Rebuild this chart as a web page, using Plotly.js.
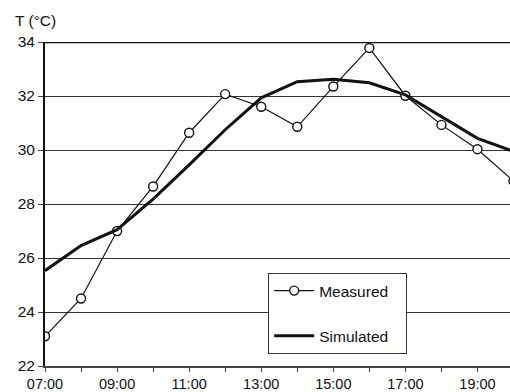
<!DOCTYPE html>
<html><head><meta charset="utf-8">
<script src="https://cdn.plot.ly/plotly-3.0.1.min.js"></script>
<style>html,body{margin:0;padding:0;background:#fff}#chart{width:510px;height:392px}</style>
</head><body><div id="chart"></div>
<script>
const hours = [7,8,9,10,11,12,13,14,15,16,17,18,19,20];
const measured = [23.1,24.5,27.0,28.65,30.64,32.07,31.6,30.86,32.35,33.78,32.01,30.93,30.03,28.85];
const simulated = [25.53,26.46,27.05,28.18,29.45,30.75,31.93,32.53,32.62,32.49,32.04,31.23,30.43,29.95];
const tickHours = [7,9,11,13,15,17,19];
const tickLabels = ["07:00","09:00","11:00","13:00","15:00","17:00","19:00"];
const yTicks = [22,24,26,28,30,32,34];

const font = {family: "Liberation Sans, Arial, sans-serif", size: 15.5, color: "#111"};
const xfont = {family: "Liberation Sans, Arial, sans-serif", size: 14.5, color: "#111"};
const pad = "\u00a0\u00a0\u00a0";
const traces = [
  {x: hours, y: measured, name: "Measured" + pad, mode: "lines+markers", legendgroup: "a",
   line: {color: "#111", width: 1.2},
   marker: {symbol: "circle", size: 9, color: "#fff", line: {color: "#111", width: 1.4}}},
  {x: hours, y: simulated, name: "Simulated" + pad, mode: "lines", legendgroup: "b",
   line: {color: "#111", width: 3}}
];
const layout = {
  width: 510, height: 392,
  margin: {l: 45, r: 0, t: 42, b: 26},
  paper_bgcolor: "#fff", plot_bgcolor: "#fff",
  font: font,
  showlegend: true,
  legend: {x: 0.48, y: 0.287, xanchor: "left", yanchor: "top",
    bgcolor: "#fff", bordercolor: "#333", borderwidth: 1, itemwidth: 40,
    traceorder: "grouped", tracegroupgap: 22, font: font},
  xaxis: {range: [7, 7 + 464.5/36], tickvals: tickHours, ticktext: tickLabels,
    showgrid: false, zeroline: false, showline: true, linecolor: "#444", linewidth: 2,
    ticks: "outside", ticklen: 4, tickcolor: "#444", tickwidth: 1,
    minor: {dtick: 1, tick0: 7, ticks: "outside", ticklen: 4, tickcolor: "#444", showgrid: false},
    tickfont: xfont, fixedrange: true},
  yaxis: {range: [22, 34], tickvals: yTicks, showgrid: true, gridcolor: "#333", gridwidth: 1,
    zeroline: false, showline: true, linecolor: "#111", linewidth: 2,
    ticks: "outside", ticklen: 5, tickcolor: "#444", tickfont: font, fixedrange: true},
  shapes: [{type: "line", xref: "paper", yref: "y", x0: 0, x1: 1, y0: 34, y1: 34,
    line: {color: "#111", width: 2.5}}],
  annotations: [{text: "T (°C)", xref: "paper", yref: "paper", x: -0.069, y: 1.0, yshift: 22,
    xanchor: "left", yanchor: "middle", showarrow: false, font: font}]
};
Plotly.newPlot("chart", traces, layout, {staticPlot: true, displayModeBar: false});
</script></body></html>
